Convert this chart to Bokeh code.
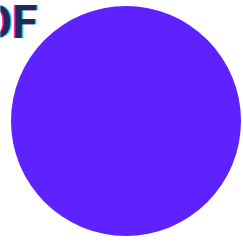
from bokeh.plotting import figure
from bokeh.models import Range1d, Label
from bokeh.embed import file_html
from bokeh.resources import INLINE

# data
labels = ["OF"]
bubble_x = [0.0]
bubble_y = [0.0]
bubble_r = [1.0]
bubble_color = "#5E22FF"
title_text = "OF"

W, H = 243, 244
p = figure(width=W, height=H, output_backend="svg", toolbar_location=None,
           x_range=Range1d(-125.5 / 115, (W - 125.5) / 115),
           y_range=Range1d(-(H - 120.5) / 115, 120.5 / 115),
           min_border=0)
p.axis.visible = False
p.grid.visible = False
p.outline_line_color = None
p.background_fill_color = "white"
p.border_fill_color = "white"

p.circle(x=bubble_x, y=bubble_y, radius=bubble_r, fill_color=bubble_color,
         line_color=None)

for dx, col in [(-1.2, "#FF2BD6"), (1.2, "#22E6E6"), (0, "#25285A")]:
    p.add_layout(Label(x=37 + dx, y=H - 21, x_units="screen", y_units="screen",
                       text=title_text, text_align="right", text_baseline="alphabetic",
                       text_font="Roboto", text_font_style="bold", text_font_size="46px",
                       text_color=col))

open("out.html", "w").write(file_html(p, INLINE))
